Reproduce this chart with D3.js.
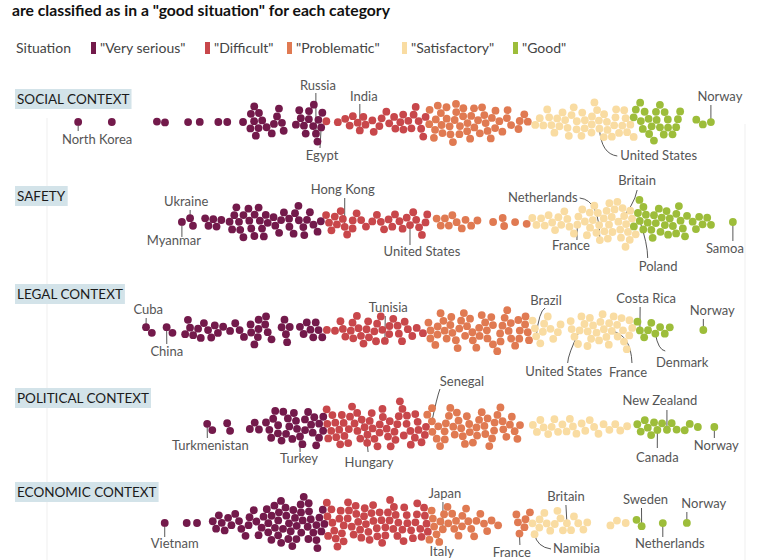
<!DOCTYPE html>
<html><head><meta charset="utf-8">
<script src="https://cdn.jsdelivr.net/npm/d3@7/dist/d3.min.js"></script>
<style>
html,body{margin:0;padding:0;background:#fff;overflow:hidden}
svg{display:block;font-family:Lato,"Open Sans",sans-serif}
</style></head>
<body>
<svg id="chart" width="768" height="560"></svg>
<script>
// ---------------- DATA ----------------
const titleText = 'are classified as in a "good situation" for each category';
const legendTitle = "Situation";
const situations = ['"Very serious"', '"Difficult"', '"Problematic"', '"Satisfactory"', '"Good"'];
const thresholds = [40, 55, 70, 85];
const categories = ["SOCIAL CONTEXT", "SAFETY", "LEGAL CONTEXT", "POLITICAL CONTEXT", "ECONOMIC CONTEXT"];

const socialScores = [
 9.0,15.6,16.7,20.1,21.8,24.5,25.8,28.1,29.2,29.4,29.7,29.9,30.0,30.3,30.4,30.7,31.6,32.2,32.5,33.1,33.3,33.7,34.0,
 35.9,36.3,36.7,36.9,37.2,37.6,37.8,38.3,38.4,38.9,39.2,39.6,
 40.1,41.9,43.0,43.6,44.1,44.8,45.6,45.9,46.9,47.2,47.9,48.3,48.9,49.4,50.1,50.3,51.0,51.4,51.6,52.2,52.4,53.0,53.2,53.7,54.0,54.3,54.7,
 55.2,55.4,55.9,56.0,56.4,56.5,56.9,57.0,57.2,57.6,57.8,58.1,58.2,58.6,58.7,59.1,59.2,59.6,59.7,60.1,60.3,60.6,60.8,61.1,61.3,61.7,61.9,
 62.3,62.5,62.9,63.1,63.5,63.7,64.1,64.3,64.8,65.0,65.5,65.7,66.3,66.6,67.1,68.2,68.6,69.0,69.4,
 70.6,71.3,71.8,72.4,72.7,73.2,73.4,73.9,74.1,74.6,74.8,75.3,75.5,76.0,76.2,76.6,76.8,77.3,77.5,77.9,78.1,78.5,78.7,79.1,79.3,79.7,79.9,
 80.5,80.7,81.1,81.3,81.7,81.9,82.3,82.5,82.9,83.1,83.5,83.8,84.2,84.4,84.8,
 85.1,85.3,85.8,86.0,86.4,86.6,87.0,87.2,87.6,87.8,88.2,88.3,88.7,88.9,89.3,89.5,89.9,90.1,90.6,90.9,91.4,91.7,94.1,95.0
];
const socialNamed = [["North Korea",4.1],["Russia",38.7],["Egypt",39.3],["India",45.1],["United States",80.1],["Norway",96.2]];

const safetyScores = [
 20.8,22.6,23.1,23.8,24.2,24.9,26.2,26.5,26.9,27.1,27.5,27.7,28.1,28.3,28.8,29.0,29.3,29.7,29.9,30.3,30.5,30.9,31.1,31.5,31.8,
 32.4,32.8,33.3,33.8,34.1,34.6,34.9,35.4,35.7,36.1,36.3,36.8,37.0,37.5,37.8,38.3,38.9,39.4,
 40.2,40.7,41.0,41.5,41.8,42.3,42.6,43.3,43.8,44.1,44.6,45.3,46.0,46.9,47.6,48.2,48.6,49.3,49.8,50.2,50.9,51.3,51.9,52.9,53.3,53.8,54.1,54.6,54.9,
 56.3,56.9,57.5,58.0,58.6,59.2,59.9,60.5,61.3,62.2,64.5,65.9,66.1,67.7,69.4,
 70.2,70.8,71.5,72.0,72.6,73.1,73.5,74.0,74.4,74.9,75.3,75.8,76.2,77.1,77.5,77.9,78.2,78.5,78.8,79.0,79.3,79.5,79.8,80.0,
 80.6,80.8,81.0,81.2,81.4,81.6,81.8,82.0,82.2,82.4,82.9,83.1,83.3,83.5,83.7,83.9,84.1,84.3,84.5,84.7,84.9,
 85.1,85.6,85.9,86.2,86.5,86.8,87.1,87.4,87.7,88.0,88.3,88.6,88.8,89.1,89.4,89.7,90.0,90.3,90.6,90.9,91.2,91.5,91.8,92.1,92.4,92.7,
 93.6,94.0,94.5,95.0,95.6,96.2
];
const safetyNamed = [["Myanmar",19.2],["Ukraine",20.4],["Hong Kong",42.9],["United States",52.4],["France",76.7],["Netherlands",80.3],["Britain",82.7],["Poland",85.4],["Samoa",99.4]];

const legalScores = [
 14.8,17.8,19.7,20.1,20.5,21.0,21.4,21.8,22.4,23.0,23.5,24.0,24.4,25.2,26.2,27.0,27.6,28.2,29.2,29.5,29.8,30.1,30.4,30.7,31.0,31.3,31.7,32.2,
 33.9,34.1,34.3,34.5,34.8,36.4,36.9,37.4,37.9,38.3,38.7,39.1,39.6,
 40.3,41.5,42.3,42.8,43.2,43.6,44.0,44.3,44.6,45.0,45.3,45.6,46.0,46.3,46.6,47.0,47.3,47.7,48.1,48.4,49.2,49.6,50.0,50.4,50.8,51.2,51.6,52.1,52.7,53.4,54.3,
 55.1,55.4,55.7,56.0,56.3,56.6,56.9,57.2,57.5,57.8,58.1,58.4,58.7,59.0,59.3,59.6,59.9,60.2,60.5,60.8,61.1,61.4,61.7,62.0,62.3,
 62.6,62.9,63.2,63.5,63.8,64.1,64.4,64.7,65.0,65.3,65.6,65.9,66.2,66.5,66.8,67.1,67.4,67.7,68.0,68.3,68.6,68.9,69.2,69.5,69.8,
 70.2,70.5,71.3,71.6,72.0,72.4,72.9,73.3,73.8,74.3,75.8,76.2,76.5,76.8,77.4,77.7,78.0,78.3,78.6,78.9,79.2,79.5,79.8,
 80.1,80.4,80.7,81.0,81.3,81.6,82.1,82.4,82.7,83.0,83.3,83.6,83.9,84.2,84.5,84.8,
 85.3,86.5,87.0,87.5,88.8,89.5,90.2
];
const legalNamed = [["Cuba",14.0],["China",17.0],["Tunisia",48.8],["Brazil",70.9],["United States",77.1],["France",81.8],["Costa Rica",85.9],["Denmark",88.1],["Norway",95.1]];

const politicalScores = [
 23.6,25.8,26.2,29.1,29.8,30.4,31.6,31.9,32.2,32.5,32.8,33.1,33.4,33.7,34.0,34.3,34.6,34.9,35.2,35.5,35.8,36.1,36.7,37.0,37.3,37.6,37.9,38.2,38.5,38.8,39.1,39.4,39.7,39.9,
 40.1,40.3,40.6,40.9,41.1,41.4,41.7,41.9,42.2,42.5,42.7,43.0,43.3,43.5,43.8,44.1,44.3,44.9,45.2,45.4,45.7,46.0,46.2,46.5,46.8,47.0,47.3,
 47.6,47.8,48.1,48.4,48.6,48.9,49.2,49.4,49.7,50.0,50.2,50.5,50.8,51.0,51.3,51.6,51.8,52.1,52.4,52.6,52.9,53.2,53.5,53.8,54.1,54.4,54.8,
 55.2,55.5,55.9,56.2,56.5,56.8,57.1,57.4,57.7,58.0,58.3,58.6,58.9,59.2,59.5,59.8,60.1,60.4,60.7,61.0,61.3,61.6,61.9,62.2,62.5,
 62.8,63.1,63.4,63.7,64.0,64.3,64.6,64.9,65.2,65.5,65.8,66.1,66.4,66.8,67.2,67.6,68.0,68.4,
 70.3,70.9,71.4,71.9,72.5,73.0,73.4,73.9,74.6,75.2,75.7,76.1,76.6,77.4,77.9,78.6,79.2,79.8,80.6,81.4,82.3,83.0,84.0,
 85.5,86.0,86.6,87.0,87.5,88.0,89.0,90.5,91.2,92.4,93.1,94.3
];
const politicalNamed = [["Turkmenistan",22.9],["Turkey",36.4],["Hungary",44.7],["Senegal",55.6],["Canada",88.4],["New Zealand",89.8],["Norway",96.7]];

const economicScores = [
 19.9,21.4,23.7,24.2,24.6,25.0,25.4,25.9,26.4,27.0,27.5,28.0,28.4,28.8,29.2,29.6,30.0,30.4,30.8,31.2,31.6,
 31.8,32.0,32.3,32.4,32.6,32.9,33.0,33.2,33.5,33.6,33.8,34.1,34.2,34.4,34.7,34.8,35.0,35.3,35.4,35.6,35.9,36.0,36.2,36.5,36.6,
 36.8,37.1,37.2,37.4,37.7,37.8,38.0,38.3,38.6,38.9,39.1,39.3,39.5,39.7,39.9,
 40.1,40.3,40.6,40.8,41.1,41.3,41.5,41.8,42.0,42.3,42.5,42.7,43.0,43.2,43.4,43.7,43.9,44.2,44.4,44.6,44.9,45.1,45.3,45.6,45.8,46.1,
 46.3,46.5,46.8,47.0,47.2,47.5,47.7,48.0,48.2,48.4,48.7,48.9,49.1,49.4,49.6,49.9,50.1,50.3,50.6,50.8,51.1,51.3,51.6,51.9,52.2,52.5,
 52.8,53.1,53.4,53.7,54.0,54.2,54.4,54.6,54.8,54.9,
 55.2,55.4,55.7,56.0,56.6,56.9,57.5,57.8,58.1,58.4,58.8,59.1,59.4,59.8,60.2,60.5,60.9,61.3,61.7,62.1,62.6,63.0,
 63.6,64.3,65.2,67.9,68.2,68.9,69.4,69.8,
 70.3,71.0,71.4,71.9,72.3,72.8,73.4,73.9,74.4,74.8,75.7,76.3,76.9,77.6,78.2,81.6,82.5,83.8,
 85.4
];
const economicNamed = [["Vietnam",16.7],["Italy",56.3],["Japan",57.2],["France",68.4],["Namibia",70.6],["Britain",75.1],["Sweden",86.1],["Netherlands",89.2],["Norway",92.7]];

// ---------------- LAYOUT / STYLE ----------------
const colors = ["#731a4b", "#c8474b", "#e07a52", "#f9dca2", "#9dbd3a"];
const rowCenters = [122, 222, 330, 427, 523];
const rowLabelY = [104, 201, 299, 403, 497];
const R = 3.9;
// label offsets: [textDx, textDy, anchor, lineEndDx, lineEndDy, ctrlDx, ctrlDy] relative to (x(score), rowCenter)
const labelLayout = [
 {"North Korea":[19,22,"middle",0,9],"Russia":[2,-32,"middle",0,-29],"Egypt":[2,38,"middle",0,26],"India":[4,-21,"middle",0,-18],
  "United States":[20,38,"start",17,34,1,32],"Norway":[9,-21,"middle",0,-17]},
 {"Myanmar":[-8,23,"middle",0,15],"Ukraine":[-4,-16,"middle",0,-12],"Hong Kong":[-2,-28,"middle",0,-24],"United States":[12,34,"middle",0,23],
  "France":[-6,28,"middle",0,18],"Netherlands":[-24,-20,"end",-22,-24,-2,-22],"Britain":[19,-37,"middle",19,-32,16,-16],
  "Poland":[2,49,"start",11,36,11,22],"Samoa":[-8,31,"middle",0,19]},
 {"Cuba":[2,-16,"middle",0,-12],"China":[0,26,"middle",0,14],"Tunisia":[3,-18,"middle",0,-14],"Brazil":[9,-25,"middle",8,-22,2,-19],
  "United States":[-16,46,"middle",-12,33,-12,25],"France":[16,47,"middle",20,33,19,5],"Costa Rica":[6,-27,"middle",0,-23],
  "Denmark":[27,37,"middle",10,21,3,20],"Norway":[9,-15,"middle",0,-11]},
 {"Turkmenistan":[3,23,"middle",0,11],"Turkey":[-1,36,"middle",0,25],"Hungary":[12,40,"middle",11,25,10,3],
  "Senegal":[30,-41,"middle",8,-38,5,-30],"Canada":[0,35,"middle",0,21],"New Zealand":[-7,-22,"middle",0,-17],"Norway":[2,23,"middle",0,11]},
 {"Vietnam":[10,25,"middle",0,14],"Italy":[5,33,"middle",5,22,1,12],"Japan":[2,-25,"middle",0,-21],"France":[-8,34,"middle",0,22],
  "Namibia":[18,30,"start",16,26,2,24],"Britain":[0,-22,"middle",0,-18],"Sweden":[4,-19,"middle",0,-15],
  "Netherlands":[7,25,"middle",0,14],"Norway":[17,-15,"middle",0,-11]}
];

// ---------------- DRAW ----------------
const svg = d3.select("#chart");
const x = d3.scaleLinear().domain([0, 100]).range([50, 737]);
const colorOf = d3.scaleThreshold().domain(thresholds).range(colors);

// faint frame lines
svg.append("line").attr("x1",47).attr("x2",47).attr("y1",118).attr("y2",560).attr("stroke","#efefef");
svg.append("line").attr("x1",745).attr("x2",745).attr("y1",124).attr("y2",560).attr("stroke","#efefef");

// title
svg.append("text").attr("x",12).attr("y",16).attr("font-size",15.5).attr("font-weight",700).attr("fill","#111")
  .attr("textLength",378).attr("lengthAdjust","spacingAndGlyphs").text(titleText);

// legend
const lg = svg.append("g").attr("font-size",14).attr("fill","#444");
lg.append("text").attr("x",16).attr("y",53).text(legendTitle);
const legendX = [91, 205, 287, 402, 513];
situations.forEach((s,i)=>{
  lg.append("rect").attr("x",legendX[i]).attr("y",42).attr("width",5).attr("height",12).attr("fill",colors[i]);
  lg.append("text").attr("x",legendX[i]+9).attr("y",53).text(s);
});

const rows = [
  [socialScores, socialNamed], [safetyScores, safetyNamed], [legalScores, legalNamed],
  [politicalScores, politicalNamed], [economicScores, economicNamed]
];

rows.forEach(([scores, named], ri) => {
  const cy = rowCenters[ri];
  // row label with background
  const lab = svg.append("g");
  const t = lab.append("text").attr("x",17).attr("y",rowLabelY[ri]).attr("font-size",13.5).attr("fill","#1b1b1b").text(categories[ri]);
  const bb = t.node().getBBox();
  lab.insert("rect","text").attr("x",15).attr("y",rowLabelY[ri]-15).attr("width",bb.width+4).attr("height",20).attr("fill","#d3e3e9");

  const nodes = scores.map(v=>({v})).concat(named.map(([name,v])=>({v,name})));
  nodes.sort((a,b)=>a.v-b.v);
  nodes.forEach((n,i)=>{ n.x = x(n.v); n.y = cy + ((i%5)-2)*0.6; });
  const sim = d3.forceSimulation(nodes)
    .force("x", d3.forceX(d=>x(d.v)).strength(0.9))
    .force("y", d3.forceY(cy).strength(0.05))
    .force("c", d3.forceCollide(R+0.15).iterations(3))
    .stop();
  for (let k=0;k<320;k++) sim.tick();

  const lay = labelLayout[ri];
  const ann = svg.append("g");
  nodes.filter(n=>n.name).forEach(n=>{
    const L = lay[n.name]; if(!L) return;
    const bx = x(n.v);
    const ex = bx + L[3], ey = cy + L[4];
    if (L.length > 5) {
      const cx = bx + L[5], cyy = cy + L[6];
      ann.append("path").attr("d",`M${n.x},${n.y}Q${cx},${cyy} ${ex},${ey}`).attr("fill","none").attr("stroke","#444").attr("stroke-width",0.9);
    } else {
      ann.append("line").attr("x1",n.x).attr("y1",n.y).attr("x2",ex).attr("y2",ey).attr("stroke","#444").attr("stroke-width",0.9);
    }
  });

  svg.append("g").selectAll("circle").data(nodes).join("circle")
    .attr("cx",d=>d.x).attr("cy",d=>d.y).attr("r",R).attr("fill",d=>colorOf(d.v));

  const tg = svg.append("g").attr("font-size",13).attr("fill","#555");
  nodes.filter(n=>n.name).forEach(n=>{
    const L = lay[n.name]; if(!L) return;
    tg.append("text").attr("x",x(n.v)+L[0]).attr("y",cy+L[1]).attr("text-anchor",L[2]).text(n.name);
  });
});
</script>
</body></html>
